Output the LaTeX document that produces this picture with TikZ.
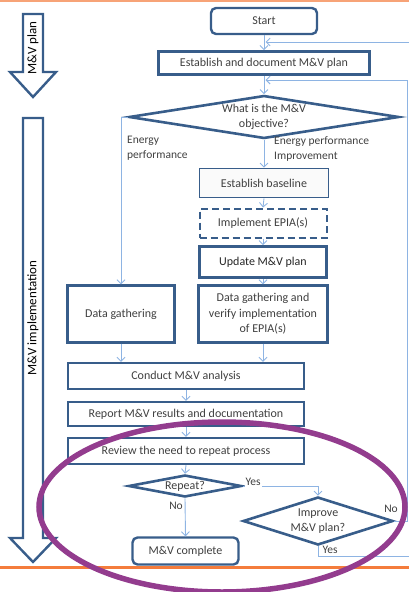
\documentclass[tikz,border=0pt]{standalone}
\usepackage{fontspec}
\setmainfont{Carlito}
\usetikzlibrary{arrows.meta,shapes.geometric}

\definecolor{boxblue}{HTML}{385D8A}
\definecolor{linkblue}{HTML}{8EB4E3}
\definecolor{txtgray}{HTML}{404040}
\definecolor{ringpurple}{HTML}{933C8E}
\definecolor{rulecol}{HTML}{F47C3C}

\tikzset{
  base/.style={font=\fontsize{12}{15.5}\selectfont, text=txtgray, inner sep=0pt, align=center},
  box/.style={base, draw=boxblue, line width=2.4pt, fill=white},
  rbox/.style={box, rounded corners=5pt},
  dia/.style={base, draw=boxblue, line width=2.6pt, fill=white, shape=diamond},
  link/.style={draw=linkblue, line width=0.9pt, -{Straight Barb[length=4pt,width=8pt,line width=0.9pt]}},
  lbl/.style={base, font=\fontsize{11.5}{15}\selectfont},
  bigarrow/.style={draw=boxblue, line width=2.4pt, fill=white, line join=miter},
  arrlbl/.style={base, font=\fontsize{13}{15}\selectfont, text=black, rotate=90}
}

\begin{document}
\begin{tikzpicture}[x=1pt, y=-1pt]
\useasboundingbox (0,0) rectangle (409,592);
\clip (0,0) rectangle (409,592);

% rules at top and bottom
\draw[rulecol!70, line width=2pt] (0,1) -- (409,1);
\draw[rulecol, line width=2.5pt] (0,567.5) -- (409,567.5);

% phase arrows on the left
\draw[bigarrow] (23,14) -- (43,14) -- (43,72) -- (56,72) -- (33,97) -- (10,72) -- (23,72) -- cycle;
\node[arrlbl] (planlbl) at (33,48) {M\&V plan};
\draw[bigarrow] (23,118) -- (43,118) -- (43,538) -- (56,538) -- (33,562) -- (10,538) -- (23,538) -- cycle;
\node[arrlbl] (impllbl) at (33,318) {M\&V implementation};

% process steps
\node[rbox, minimum width=106pt, minimum height=26pt] (start) at (264,21) {Start};
\node[box, line width=2.8pt, minimum width=211pt, minimum height=23pt] (estab) at (264,63) {Establish and document M\&V plan};
\node[dia, shape aspect=6.3, minimum width=270pt, minimum height=43pt] (obj) at (264,117) {What is the M\&V\\objective?};
\node[box, line width=1.6pt, fill=black!2, minimum width=129pt, minimum height=29pt] (base) at (264,183) {Establish baseline};
\node[box, line width=2pt, dash pattern=on 7pt off 4pt, minimum width=127pt, minimum height=29pt] (epia) at (263,223) {Implement EPIA(s)};
\node[box, line width=2.6pt, text=black!85, minimum width=127pt, minimum height=31pt] (upd) at (263,262) {Update M\&V plan};
\node[box, minimum width=107pt, minimum height=57pt] (dg) at (121,314) {Data gathering};
\node[box, minimum width=129pt, minimum height=57pt] (dgv) at (263,314) {Data gathering and\\verify implementation\\of EPIA(s)};
\node[box, minimum width=236pt, minimum height=26pt] (cond) at (186,376) {Conduct M\&V analysis};
\node[box, minimum width=236pt, minimum height=24pt] (rep) at (186,414) {Report M\&V results and documentation};
\node[box, minimum width=236pt, minimum height=26pt] (rev) at (186,451) {Review the need to repeat process};
\node[dia, shape aspect=5.2, minimum width=113pt, minimum height=22pt] (rpt) at (185,486) {Repeat?};
\node[dia, shape aspect=3.1, minimum width=150pt, minimum height=48pt] (imp) at (318,521) {Improve\\M\&V plan?};
\node[rbox, minimum width=106pt, minimum height=27pt] (done) at (185.5,551) {M\&V complete};

% free ends of the loop-back connectors
\coordinate (fbA) at (265.5,42);
\coordinate (fbB) at (265.5,80);
\coordinate (eY) at (409,556);
\coordinate (eN) at (407,521);

% connectors
\draw[link] (start.south) -- (estab.north);
\draw[link] (estab.south) -- (obj.north);
\draw[link] (obj.west) -| (dg.north);
\draw[link] (obj.south) -- (base.north);
\draw[link] (base.south) -- (epia.north);
\draw[link] (epia.south) -- (upd.north);
\draw[link] (upd.south) -- (dgv.north);
\draw[link] (dg.south) -- (dg.south |- cond.north);
\draw[link] (dgv.south) -- (dgv.south |- cond.north);
\draw[link] (cond.south) -- (rep.north);
\draw[link] (rep.south) -- (rev.north);
\draw[link] (rev.south) -- (rpt.north);
\draw[link] (rpt.south) -- (done.north);
\draw[link] (rpt.east) -| (imp.north);
\draw[link] (imp.east) -- (eN) |- (fbB);
\draw[link] (imp.south) |- (eY) |- (fbA);

% branch labels
\node[lbl, align=left, anchor=north west] (lEP) at (127,136) {Energy\\performance};
\node[lbl, align=left, anchor=north west] (lEPI) at (274,136) {Energy performance\\Improvement};
\node[lbl, fill=white, inner sep=1pt] (lYes1) at (253,482) {Yes};
\node[lbl] (lNo1) at (176,506) {No};
\node[lbl] (lNo2) at (391,509) {No};
\node[lbl] (lYes2) at (330,550) {Yes};

% highlight ring around the decision part
\draw[ringpurple, line width=5.5pt] (222,507) ellipse [x radius=183pt, y radius=85pt];
\end{tikzpicture}
\end{document}
